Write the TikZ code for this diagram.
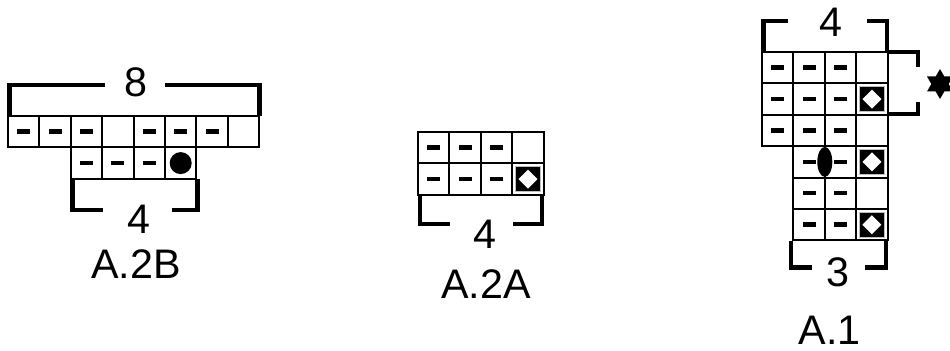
\documentclass[tikz,border=0pt]{standalone}
\usepackage{fontspec}
\setmainfont{Liberation Sans}
\newcommand{\cw}{31.4}
\newcommand{\chartrow}[3]{\foreach \k [count=\i from 0] in {#3} \pic at ({#1+\i*\cw},#2) {\k};}

\begin{document}
\begin{tikzpicture}[
    x=0.02cm, y=-0.02cm,
    cellline/.style={line width=1.1pt},
    bracket/.style={line width=2.6pt},
    lbl/.style={font=\fontsize{23.5}{28}\selectfont, inner sep=0pt},
    knit/.pic={\draw[cellline] (0,0) rectangle (\cw,\cw);},
    purl/.pic={\draw[cellline] (0,0) rectangle (\cw,\cw);
        \fill ({\cw/2-6.5},{\cw/2-2.2}) rectangle ({\cw/2+6.5},{\cw/2+2.2});},
    yo/.pic={\draw[cellline] (0,0) rectangle (\cw,\cw);
        \filldraw[fill=black, draw=gray!50, line width=0.5pt] (3,3) rectangle ({\cw-3},{\cw-3});
        \fill[white] ({\cw/2},{\cw/2-9.5}) -- ++(9.5,9.5) -- ++(-9.5,9.5) -- ++(-9.5,-9.5) -- cycle;},
    bobble/.pic={\draw[cellline] (0,0) rectangle (\cw,\cw);
        \fill ({\cw/2},{\cw/2}) circle[radius=11];}
]
\useasboundingbox (0,0) rectangle (950,351);

% A.2B
\chartrow{8}{116}{purl,purl,purl,knit,purl,purl,purl,knit}
\chartrow{70.8}{147.4}{purl,purl,purl,bobble}
\draw[bracket] (9.5,116) -- (9.5,85) -- (105,85);
\draw[bracket] (165,85) -- (259.5,85) -- (259.5,116);
\node[lbl] (w2B) at (136,82) {8};
\draw[bracket] (72.5,179) -- (72.5,210) -- (103,210);
\draw[bracket] (172,210) -- (197.5,210) -- (197.5,179);
\node[lbl] (r2B) at (139,219) {4};
\node[lbl] (t2B) at (136,264) {A.2B};

% A.2A
\chartrow{418}{132}{purl,purl,purl,knit}
\chartrow{418}{163.4}{purl,purl,purl,yo}
\draw[bracket] (420,196) -- (420,224) -- (450,224);
\draw[bracket] (513,224) -- (542,224) -- (542,196);
\node[lbl] (r2A) at (484.5,234) {4};
\node[lbl] (t2A) at (486,284) {A.2A};

% A.1
\chartrow{762}{52}{purl,purl,purl,knit}
\chartrow{762}{83.4}{purl,purl,purl,yo}
\chartrow{762}{114.8}{purl,purl,purl,knit}
\chartrow{793.4}{146.2}{purl,purl,yo}
\chartrow{793.4}{177.6}{purl,purl,knit}
\chartrow{793.4}{209}{purl,purl,yo}
\fill (824.8,161.9) ellipse[x radius=7.5, y radius=15];
\draw[bracket] (763.5,52) -- (763.5,21) -- (788,21);
\draw[bracket] (867,21) -- (887,21) -- (887,52);
\node[lbl] (w1) at (831,22) {4};
\draw[bracket] (887,52) -- (918,52) -- (918,67);
\draw[bracket] (918,102) -- (918,114) -- (887,114);
\fill[shift={(940,84)}] (90:15) -- (210:15) -- (330:15) -- cycle
    (270:15) -- (30:15) -- (150:15) -- cycle;
\draw[bracket] (791,241) -- (791,267.5) -- (812,267.5);
\draw[bracket] (865,267.5) -- (886,267.5) -- (886,241);
\node[lbl] (r1) at (838,272) {3};
\node[lbl] (t1) at (829.5,330) {A.1};
\end{tikzpicture}
\end{document}
